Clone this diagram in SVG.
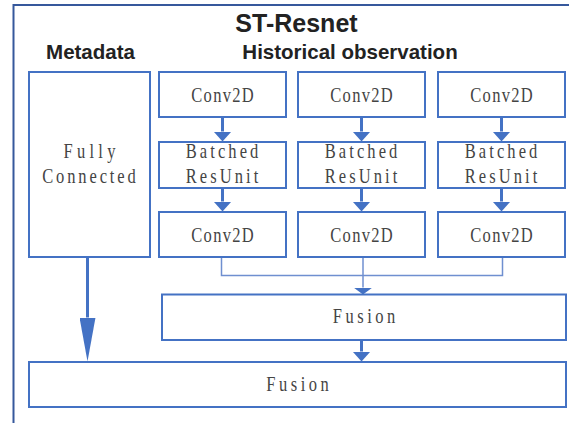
<svg xmlns="http://www.w3.org/2000/svg" width="569" height="423" viewBox="0 0 569 423">
  <style>
    .frame { fill: none; stroke: #36589c; stroke-width: 2; }
    .box { fill: #ffffff; stroke: #4472c4; stroke-width: 2; }
    .head { font-family: "Liberation Sans", Arial, sans-serif; font-weight: bold; fill: #222222; text-anchor: middle; }
    .lbl { font-family: "Liberation Serif", "Times New Roman", serif; font-size: 22px; fill: #444444; text-anchor: middle; }
    .flow { fill: none; stroke: #4472c4; stroke-width: 3; }
    .join { fill: none; stroke: #6f8fd0; stroke-width: 1.5; }
  </style>
  <defs>
    <marker id="arrow" markerUnits="userSpaceOnUse" viewBox="0 0 10 18" markerWidth="10" markerHeight="18" refX="0" refY="9" orient="auto">
      <path d="M0,0 L10,9 L0,18 Z" fill="#4472c4"/>
    </marker>
    <marker id="arrowLong" markerUnits="userSpaceOnUse" viewBox="0 0 44 16" markerWidth="44" markerHeight="16" refX="0" refY="8" orient="auto">
      <path d="M0,0 L44,8 L0,16 Z" fill="#4472c4"/>
    </marker>
    <marker id="arrowFlat" markerUnits="userSpaceOnUse" viewBox="0 0 7 19" markerWidth="7" markerHeight="19" refX="0" refY="9.5" orient="auto">
      <path d="M0,0 L7,9.5 L0,19 Z" fill="#4472c4"/>
    </marker>
  </defs>

  <rect width="569" height="423" fill="#ffffff"/>

  <!-- outer frame, open to the right and bottom -->
  <rect class="frame" x="13.5" y="5" width="600" height="460"/>

  <text class="head" x="296.5" y="31.5" font-size="25">ST-Resnet</text>
  <text class="head" x="90.5" y="59" font-size="20.5">Metadata</text>
  <text class="head" x="350" y="59" font-size="20.5">Historical observation</text>

  <!-- connectors -->
  <g id="connectors">
    <line class="flow" x1="222.5" y1="117" x2="222.5" y2="131.5" marker-end="url(#arrow)"/>
    <line class="flow" x1="361.5" y1="117" x2="361.5" y2="131.5" marker-end="url(#arrow)"/>
    <line class="flow" x1="501.5" y1="117" x2="501.5" y2="131.5" marker-end="url(#arrow)"/>
    <line class="flow" x1="222.5" y1="188" x2="222.5" y2="201.5" marker-end="url(#arrow)"/>
    <line class="flow" x1="361.5" y1="188" x2="361.5" y2="201.5" marker-end="url(#arrow)"/>
    <line class="flow" x1="501.5" y1="188" x2="501.5" y2="201.5" marker-end="url(#arrow)"/>
    <polyline class="join" points="221.5,257 221.5,275.5 502.5,275.5 502.5,257"/>
    <line class="join" x1="363" y1="257" x2="363" y2="287.5" marker-end="url(#arrowFlat)"/>
    <line class="flow" x1="87.5" y1="257" x2="87.5" y2="317.5" marker-end="url(#arrowLong)"/>
    <line class="flow" x1="361.5" y1="340" x2="361.5" y2="351.5" marker-end="url(#arrow)"/>
  </g>

  <!-- box labels use a narrowed serif, spread to fixed widths -->
  <g id="fully-connected">
    <rect class="box" x="29" y="72" width="121" height="185"/>
    <text class="lbl" transform="translate(89.5,158.3) scale(0.75,1)" textLength="69.3" lengthAdjust="spacing">Fully</text>
    <text class="lbl" transform="translate(89,183.3) scale(0.75,1)" textLength="124.8" lengthAdjust="spacing">Connected</text>
  </g>

  <g id="conv-in-1">
    <rect class="box" x="159" y="72" width="127" height="45"/>
    <text class="lbl" transform="translate(222.5,101.5) scale(0.75,1)" textLength="83.2" lengthAdjust="spacing">Conv2D</text>
  </g>
  <g id="conv-in-2">
    <rect class="box" x="298" y="72" width="127" height="45"/>
    <text class="lbl" transform="translate(361.5,101.5) scale(0.75,1)" textLength="83.2" lengthAdjust="spacing">Conv2D</text>
  </g>
  <g id="conv-in-3">
    <rect class="box" x="438" y="72" width="127" height="45"/>
    <text class="lbl" transform="translate(501.5,101.5) scale(0.75,1)" textLength="83.2" lengthAdjust="spacing">Conv2D</text>
  </g>

  <g id="resunit-1">
    <rect class="box" x="159" y="142" width="127" height="46"/>
    <text class="lbl" transform="translate(222,158.3) scale(0.75,1)" textLength="97" lengthAdjust="spacing">Batched</text>
    <text class="lbl" transform="translate(222,182.7) scale(0.75,1)" textLength="97" lengthAdjust="spacing">ResUnit</text>
  </g>
  <g id="resunit-2">
    <rect class="box" x="298" y="142" width="127" height="46"/>
    <text class="lbl" transform="translate(361,158.3) scale(0.75,1)" textLength="97" lengthAdjust="spacing">Batched</text>
    <text class="lbl" transform="translate(361,182.7) scale(0.75,1)" textLength="97" lengthAdjust="spacing">ResUnit</text>
  </g>
  <g id="resunit-3">
    <rect class="box" x="438" y="142" width="127" height="46"/>
    <text class="lbl" transform="translate(501,158.3) scale(0.75,1)" textLength="97" lengthAdjust="spacing">Batched</text>
    <text class="lbl" transform="translate(501,182.7) scale(0.75,1)" textLength="97" lengthAdjust="spacing">ResUnit</text>
  </g>

  <g id="conv-out-1">
    <rect class="box" x="159" y="212" width="127" height="45"/>
    <text class="lbl" transform="translate(222.5,241.5) scale(0.75,1)" textLength="83.2" lengthAdjust="spacing">Conv2D</text>
  </g>
  <g id="conv-out-2">
    <rect class="box" x="298" y="212" width="127" height="45"/>
    <text class="lbl" transform="translate(361.5,241.5) scale(0.75,1)" textLength="83.2" lengthAdjust="spacing">Conv2D</text>
  </g>
  <g id="conv-out-3">
    <rect class="box" x="438" y="212" width="127" height="45"/>
    <text class="lbl" transform="translate(501.5,241.5) scale(0.75,1)" textLength="83.2" lengthAdjust="spacing">Conv2D</text>
  </g>

  <g id="fusion-history">
    <rect class="box" x="162" y="294.5" width="404" height="45.5"/>
    <text class="lbl" transform="translate(364,323) scale(0.75,1)" textLength="83.2" lengthAdjust="spacing">Fusion</text>
  </g>

  <g id="fusion-final">
    <rect class="box" x="29" y="362" width="537" height="45"/>
    <text class="lbl" transform="translate(297.5,391.3) scale(0.75,1)" textLength="83.2" lengthAdjust="spacing">Fusion</text>
  </g>
</svg>
